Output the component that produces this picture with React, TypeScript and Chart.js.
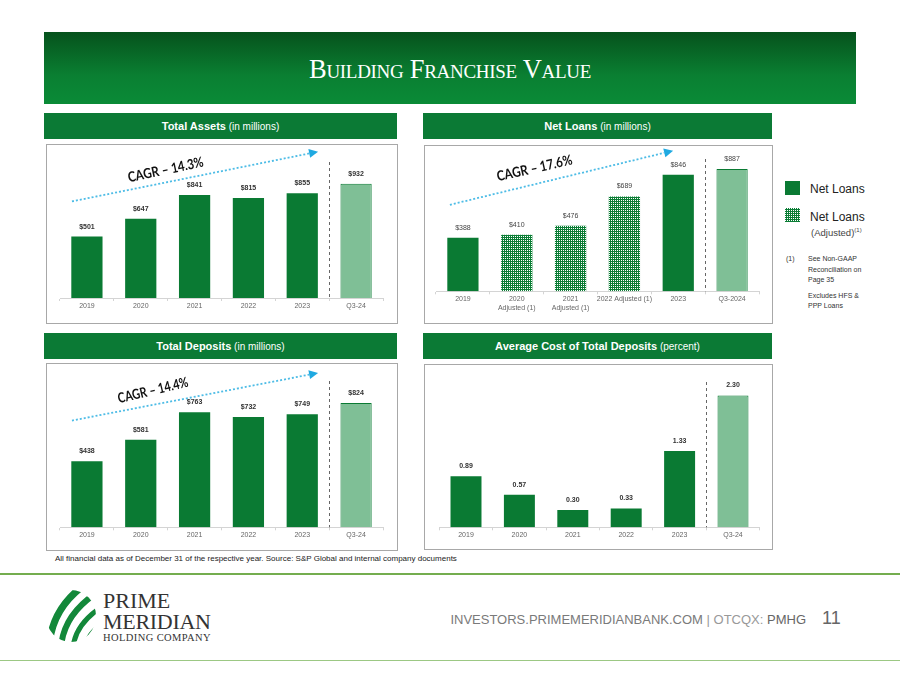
import React, { useEffect, useRef } from "react";
import { Chart, registerables } from "chart.js";

Chart.register(...registerables);

// ---------- DATA ----------
const yearLabels = ["2019", "2020", "2021", "2022", "2023", "Q3-24"];
const totalAssets = [501, 647, 841, 815, 855, 932];

const netLoanLabels = [
  ["2019"],
  ["2020", "Adjusted (1)"],
  ["2021", "Adjusted (1)"],
  ["2022 Adjusted (1)"],
  ["2023"],
  ["Q3-2024"],
];
const netLoans = [388, 410, 476, 689, 846, 887];
const netLoansAdjusted = [false, true, true, true, false, false];

const totalDeposits = [438, 581, 763, 732, 749, 824];
const avgCostDeposits = [0.89, 0.57, 0.3, 0.33, 1.33, 2.3];

const cagrAssets = "CAGR – 14.3%";
const cagrLoans = "CAGR – 17.6%";
const cagrDeposits = "CAGR – 14.4%";

// ---------- STYLE ----------
const GREEN = "#0a7a33";
const LIGHT_GREEN = "#7fbf96";

function makePattern(): CanvasPattern | string {
  const c = document.createElement("canvas");
  c.width = 2;
  c.height = 2;
  const x = c.getContext("2d");
  if (!x) return GREEN;
  x.fillStyle = "#0b7d35";
  x.fillRect(0, 0, 2, 2);
  x.fillStyle = "#ffffff";
  x.fillRect(0, 0, 1, 1);
  const ctx2 = document.createElement("canvas").getContext("2d");
  return (ctx2 && ctx2.createPattern(c, "repeat")) || GREEN;
}

function formatValue(kind: string, v: number): string {
  return kind === "fixed2" ? Number(v).toFixed(2) : "$" + v;
}

const decoPlugin = {
  id: "deco",
  afterDatasetsDraw(chart: any, _args: any, o: any) {
    const ctx = chart.ctx;
    const meta = chart.getDatasetMeta(0);
    const data = chart.data.datasets[0].data as number[];
    ctx.save();
    ctx.textAlign = "center";
    ctx.textBaseline = "middle";
    ctx.fillStyle = o.labelColor || "#333";
    ctx.font = `${o.labelBold ? "bold " : ""}7px "Liberation Sans", Arial, sans-serif`;
    meta.data.forEach((el: any, i: number) => {
      ctx.fillText(formatValue(o.fmt, data[i]), el.x, el.y - 10);
    });
    ctx.restore();
  },
  afterDraw(chart: any, _args: any, o: any) {
    const ctx = chart.ctx;
    const a = chart.chartArea;
    const xs = chart.scales.x;
    // separator
    const sx = Math.round((xs.getPixelForValue(4) + xs.getPixelForValue(5)) / 2) + 0.5;
    ctx.save();
    ctx.strokeStyle = "#666";
    ctx.lineWidth = 1;
    ctx.setLineDash([3, 3]);
    ctx.beginPath();
    ctx.moveTo(sx, a.top + (o.sepOffset ?? 14));
    ctx.lineTo(sx, a.bottom);
    ctx.stroke();
    ctx.restore();
    // CAGR arrow
    const ar = o.arrow;
    if (ar && ar.text) {
      const W = a.right - a.left;
      const H = a.bottom - a.top;
      const x0 = a.left + ar.x0 * W;
      const y0 = a.top + ar.y0 * H;
      const x1 = a.left + ar.x1 * W;
      const y1 = a.top + ar.y1 * H;
      const ang = Math.atan2(y1 - y0, x1 - x0);
      const L = 9;
      const bx = x1 - L * Math.cos(ang);
      const by = y1 - L * Math.sin(ang);
      ctx.save();
      ctx.strokeStyle = "#4dbce6";
      ctx.lineWidth = 1.8;
      ctx.setLineDash([2, 2]);
      ctx.beginPath();
      ctx.moveTo(x0, y0);
      ctx.lineTo(bx, by);
      ctx.stroke();
      ctx.setLineDash([]);
      ctx.fillStyle = "#1fa9e1";
      const px = -Math.sin(ang) * 4.5;
      const py = Math.cos(ang) * 4.5;
      ctx.beginPath();
      ctx.moveTo(x1, y1);
      ctx.lineTo(bx + px, by + py);
      ctx.lineTo(bx - px, by - py);
      ctx.closePath();
      ctx.fill();
      // text
      const tx = a.left + ar.tx * W;
      const ty = a.top + ar.ty * H;
      ctx.translate(tx, ty);
      ctx.rotate((ar.angle * Math.PI) / 180);
      ctx.font = 'bold 14px Lato, "Open Sans", sans-serif';
      const w = ctx.measureText(ar.text).width;
      ctx.scale(ar.width / w, 1);
      ctx.fillStyle = "#111";
      ctx.textAlign = "center";
      ctx.textBaseline = "middle";
      ctx.fillText(ar.text, 0, 0);
      ctx.restore();
    }
  },
};

type BarProps = {
  left: number;
  top: number;
  width: number;
  height: number;
  labels: any[];
  values: number[];
  yMax: number;
  pad: { left: number; right: number; top: number; bottom: number };
  fmt: string;
  labelBold: boolean;
  labelColor?: string;
  sepOffset?: number;
  arrow?: any;
  patternIdx?: boolean[];
};

function BarChart(p: BarProps) {
  const ref = useRef<HTMLCanvasElement>(null);
  useEffect(() => {
    if (!ref.current) return;
    const pattern = makePattern();
    const bg = p.values.map((_, i) =>
      p.patternIdx && p.patternIdx[i] ? pattern : i === p.values.length - 1 ? LIGHT_GREEN : GREEN
    );
    const border = p.values.map((_, i) => (i === p.values.length - 1 ? GREEN : "rgba(0,0,0,0)"));
    const bw = p.values.map((_, i) => (i === p.values.length - 1 ? 1 : 0));
    const chart = new Chart(ref.current, {
      type: "bar",
      data: {
        labels: p.labels,
        datasets: [
          {
            data: p.values,
            backgroundColor: bg as any,
            borderColor: border,
            borderWidth: bw,
            barPercentage: 0.58,
            categoryPercentage: 1,
          },
        ],
      },
      options: {
        animation: false,
        responsive: false,
        maintainAspectRatio: false,
        layout: { padding: p.pad },
        plugins: {
          legend: { display: false },
          tooltip: { enabled: false },
          deco: {
            fmt: p.fmt,
            labelBold: p.labelBold,
            labelColor: p.labelColor || "#333",
            sepOffset: p.sepOffset ?? 14,
            arrow: p.arrow || {},
          },
        } as any,
        scales: {
          x: {
            grid: {
              display: true,
              drawOnChartArea: false,
              drawTicks: true,
              tickLength: 3,
              color: "#d4d4d4",
            },
            border: { display: true, color: "#d4d4d4" },
            ticks: {
              color: "#666",
              font: { size: 7, family: '"Liberation Sans", Arial, sans-serif' },
              padding: 1,
              maxRotation: 0,
              autoSkip: false,
            },
          },
          y: { display: false, min: 0, max: p.yMax },
        },
      },
      plugins: [decoPlugin as any],
    });
    return () => chart.destroy();
  }, []);
  return (
    <canvas
      ref={ref}
      width={p.width}
      height={p.height}
      style={{ position: "absolute", left: p.left, top: p.top, width: p.width, height: p.height }}
    />
  );
}

function Header({ left, top, width, bold, rest }: any) {
  return (
    <div
      style={{
        position: "absolute",
        left,
        top,
        width,
        height: 26,
        background: "#0b7a35",
        color: "#fff",
        display: "flex",
        alignItems: "center",
        justifyContent: "center",
        fontFamily: '"Liberation Sans", Arial, sans-serif',
        whiteSpace: "pre",
      }}
    >
      <span style={{ fontWeight: "bold", fontSize: 11 }}>{bold}</span>
      <span style={{ fontSize: 10 }}> {rest}</span>
    </div>
  );
}

function Box({ left, top, width, height }: any) {
  return (
    <div
      style={{
        position: "absolute",
        left,
        top,
        width,
        height,
        border: "1px solid #a8a8a8",
        boxSizing: "border-box",
      }}
    />
  );
}

export default function App() {
  const sans = '"Liberation Sans", Arial, sans-serif';
  return (
    <div
      style={{
        position: "fixed",
        left: 0,
        top: 0,
        width: 900,
        height: 675,
        background: "#fff",
        overflow: "hidden",
      }}
    >
      {/* Title banner */}
      <div
        style={{
          position: "absolute",
          left: 44,
          top: 32,
          width: 812,
          height: 72,
          background: "linear-gradient(to bottom, #06521c 0%, #0a7f32 60%, #0a8b37 100%)",
          display: "flex",
          alignItems: "center",
          justifyContent: "center",
          color: "#fff",
          fontFamily: '"Liberation Serif", "Times New Roman", serif',
          fontVariant: "small-caps",
          fontSize: 26.5,
          paddingTop: 3,
          boxSizing: "border-box",
          letterSpacing: -0.3,
        }}
      >
        Building Franchise Value
      </div>

      <Header left={44} top={113} width={353} bold="Total Assets" rest="(in millions)" />
      <Header left={423} top={113} width={349} bold="Net Loans" rest="(in millions)" />
      <Header left={44} top={333} width={353} bold="Total Deposits" rest="(in millions)" />
      <Header left={423} top={333} width={349} bold="Average Cost of Total Deposits" rest="(percent)" />

      <Box left={46} top={144} width={352} height={180} />
      <Box left={424} top={145} width={349} height={179} />
      <Box left={46} top={363} width={352} height={188} />
      <Box left={424} top={364} width={349} height={186} />

      <BarChart
        left={47}
        top={145}
        width={350}
        height={178}
        labels={yearLabels}
        values={totalAssets}
        yMax={1224}
        pad={{ left: 13, right: 14, top: 3, bottom: 11.6 }}
        fmt="dollar"
        labelBold={true}
        arrow={{ x0: 0.037, y0: 0.356, x1: 0.799, y1: 0.0245, tx: 0.327, ty: 0.146, angle: -12, width: 77, text: cagrAssets }}
      />
      <BarChart
        left={425}
        top={146}
        width={347}
        height={177}
        labels={netLoanLabels}
        values={netLoans}
        patternIdx={netLoansAdjusted}
        yMax={1033}
        pad={{ left: 11, right: 13, top: 3, bottom: 9.9 }}
        fmt="dollar"
        labelBold={false}
        labelColor="#444"
        sepOffset={10}
        arrow={{ x0: 0.043, y0: 0.392, x1: 0.734, y1: 0.012, tx: 0.305, ty: 0.136, angle: -12.8, width: 77, text: cagrLoans }}
      />
      <BarChart
        left={47}
        top={364}
        width={350}
        height={186}
        labels={yearLabels}
        values={totalDeposits}
        yMax={1063}
        pad={{ left: 13, right: 14, top: 3, bottom: 9.3 }}
        fmt="dollar"
        labelBold={true}
        arrow={{ x0: 0.037, y0: 0.334, x1: 0.799, y1: 0.037, tx: 0.288, ty: 0.146, angle: -13.6, width: 72, text: cagrDeposits }}
      />
      <BarChart
        left={425}
        top={365}
        width={347}
        height={184}
        labels={yearLabels}
        values={avgCostDeposits}
        yMax={2.78}
        pad={{ left: 14.3, right: 12.3, top: 3, bottom: 8.3 }}
        fmt="fixed2"
        labelBold={true}
      />

      {/* Legend */}
      <div style={{ position: "absolute", left: 785, top: 181, width: 15, height: 14, background: GREEN }} />
      <div style={{ position: "absolute", left: 810, top: 182, fontFamily: sans, fontSize: 12, color: "#222" }}>
        Net Loans
      </div>
      <svg width={15} height={14} style={{ position: "absolute", left: 785, top: 208 }}>
        <defs>
          <pattern id="adjpat" width="2" height="2" patternUnits="userSpaceOnUse">
            <rect width="2" height="2" fill="#0b7d35" />
            <rect width="1" height="1" fill="#ffffff" />
          </pattern>
        </defs>
        <rect width="15" height="14" fill="url(#adjpat)" />
      </svg>
      <div style={{ position: "absolute", left: 810, top: 210, fontFamily: sans, fontSize: 12, color: "#222" }}>
        Net Loans
      </div>
      <div style={{ position: "absolute", left: 811, top: 227, fontFamily: sans, fontSize: 9.5, color: "#444" }}>
        (Adjusted)<span style={{ fontSize: 6, verticalAlign: "super" }}>(1)</span>
      </div>
      <div style={{ position: "absolute", left: 786, top: 255, fontFamily: sans, fontSize: 7, color: "#333" }}>
        (1)
      </div>
      <div
        style={{
          position: "absolute",
          left: 808,
          top: 254,
          fontFamily: sans,
          fontSize: 7,
          lineHeight: "10.5px",
          color: "#333",
          width: 80,
        }}
      >
        <div>See Non-GAAP</div>
        <div>Reconciliation on</div>
        <div>Page 35</div>
        <div style={{ marginTop: 5 }}>Excludes HFS &amp;</div>
        <div>PPP Loans</div>
      </div>

      {/* Footnote */}
      <div
        style={{
          position: "absolute",
          left: 55,
          top: 554,
          fontFamily: sans,
          fontSize: 8,
          color: "#222",
          whiteSpace: "nowrap",
        }}
      >
        All financial data as of December 31 of the respective year. Source: S&amp;P Global and internal company documents
      </div>

      {/* Lines */}
      <div style={{ position: "absolute", left: 0, top: 573, width: 900, height: 2, background: "#74ad4f" }} />
      <div style={{ position: "absolute", left: 0, top: 660, width: 900, height: 1, background: "#9cc884" }} />

      {/* Logo */}
      <svg
        width={56}
        height={56}
        viewBox="0 0 56 56"
        style={{ position: "absolute", left: 43, top: 588 }}
      >
        <defs>
          <clipPath id="lg">
            <ellipse cx="28" cy="28" rx="25" ry="26" />
          </clipPath>
        </defs>
        <g clipPath="url(#lg)" fill="none" stroke="#13883a" strokeLinecap="butt">
          <path d="M6 60 Q8 22 40 -2" strokeWidth={7} />
          <path d="M18 60 Q20 28 52 6" strokeWidth={6} />
          <path d="M30 60 Q32 36 60 18" strokeWidth={5} />
          <path d="M42 60 Q44 44 62 34" strokeWidth={4} />
        </g>
      </svg>
      <div
        style={{
          position: "absolute",
          left: 103,
          top: 590,
          fontFamily: '"Liberation Serif", "Times New Roman", serif',
          color: "#333",
          lineHeight: 1,
        }}
      >
        <div style={{ fontSize: 22, height: 21 }}>PRIME</div>
        <div style={{ fontSize: 22, height: 22, letterSpacing: -0.3 }}>MERIDIAN</div>
        <div style={{ fontSize: 10.5, letterSpacing: 0.4 }}>HOLDING COMPANY</div>
      </div>

      {/* Footer */}
      <div
        style={{
          position: "absolute",
          right: 900 - 806,
          top: 612,
          fontFamily: sans,
          fontSize: 13,
          color: "#7a7a7a",
          whiteSpace: "nowrap",
        }}
      >
        INVESTORS.PRIMEMERIDIANBANK.COM <span style={{ color: "#999" }}>| OTCQX: </span>
        <span style={{ color: "#666" }}>PMHG</span>
      </div>
      <div
        style={{
          position: "absolute",
          left: 822,
          top: 608,
          fontFamily: sans,
          fontSize: 18,
          color: "#666",
        }}
      >
        11
      </div>
    </div>
  );
}
